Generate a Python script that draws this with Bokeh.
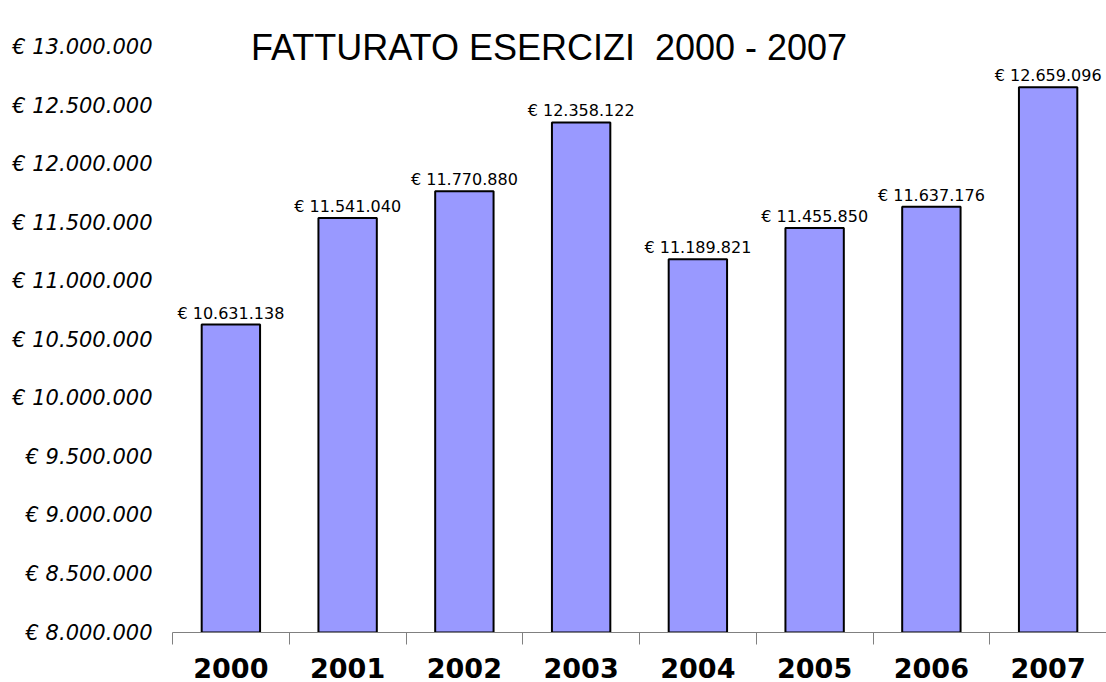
from bokeh.plotting import figure
from bokeh.models import ColumnDataSource, FixedTicker, Range1d, Label, LabelSet
from bokeh.core.properties import value
from bokeh.embed import file_html
from bokeh.resources import INLINE

years = ["2000", "2001", "2002", "2003", "2004", "2005", "2006", "2007"]
fatturato = [10631138, 11541040, 11770880, 12358122, 11189821, 11455850, 11637176, 12659096]
y_ticks = [8000000, 8500000, 9000000, 9500000, 10000000, 10500000,
           11000000, 11500000, 12000000, 12500000, 13000000]
title_text = "FATTURATO ESERCIZI \u00a02000 - 2007"

def euro(v):
    return "€ " + f"{v:,}".replace(",", ".")

pos = [i + 0.5 for i in range(len(years))]
src = ColumnDataSource(dict(
    x=pos, top=fatturato, lab=[euro(v) for v in fatturato]))

# extra headroom above the top tick so the title is drawn inside the frame
y_span = y_ticks[-1] - y_ticks[0]
y_end = y_ticks[-1] + y_span * 0.08

p = figure(width=1106, height=682, output_backend="svg", toolbar_location=None,
           x_range=Range1d(0, len(years)), y_range=Range1d(y_ticks[0], y_end),
           min_border_left=172, min_border_right=0, min_border_top=0,
           min_border_bottom=50)
p.outline_line_color = None
p.xgrid.visible = False
p.ygrid.visible = False
p.background_fill_color = "white"

p.vbar(x="x", top="top", bottom=y_ticks[0], width=0.5, source=src,
       fill_color="#9999FF", line_color="black", line_width=2)

p.add_layout(LabelSet(x="x", y="top", text="lab", source=src, text_align="center",
                      text_baseline="bottom", y_offset=2, text_font=value("DejaVu Sans"),
                      text_font_size=value("16px"), text_color=value("black")))

# x axis
p.xaxis.ticker = FixedTicker(ticks=pos, minor_ticks=list(range(len(years) + 1)))
p.xaxis.major_label_overrides = {x: y for x, y in zip(pos, years)}
p.xaxis.major_tick_out = 0
p.xaxis.major_tick_in = 0
p.xaxis.minor_tick_out = 12
p.xaxis.minor_tick_in = 0
p.xaxis.minor_tick_line_color = "#808080"
p.xaxis.axis_line_color = "#808080"
p.xaxis.major_label_standoff = 13
p.xaxis.major_label_text_font = "DejaVu Sans"
p.xaxis.major_label_text_font_style = "bold"
p.xaxis.major_label_text_font_size = "27px"
p.xaxis.major_label_text_color = "black"

# y axis
p.yaxis.ticker = FixedTicker(ticks=y_ticks)
p.yaxis.major_label_overrides = {v: euro(v) for v in y_ticks}
p.yaxis.axis_line_color = None
p.yaxis.major_tick_line_color = None
p.yaxis.minor_tick_line_color = None
p.yaxis.major_tick_out = 0
p.yaxis.major_tick_in = 0
p.yaxis.major_label_standoff = 20
p.yaxis.major_label_text_font = "DejaVu Sans"
p.yaxis.major_label_text_font_style = "italic"
p.yaxis.major_label_text_font_size = "21px"
p.yaxis.major_label_text_color = "black"

p.add_layout(Label(x=3.225, y=y_ticks[-1], y_offset=0, text=title_text,
                   text_align="center", text_baseline="alphabetic",
                   text_font="Liberation Sans", text_font_size="36px", text_color="black"))

open("out.html", "w").write(file_html(p, INLINE))
